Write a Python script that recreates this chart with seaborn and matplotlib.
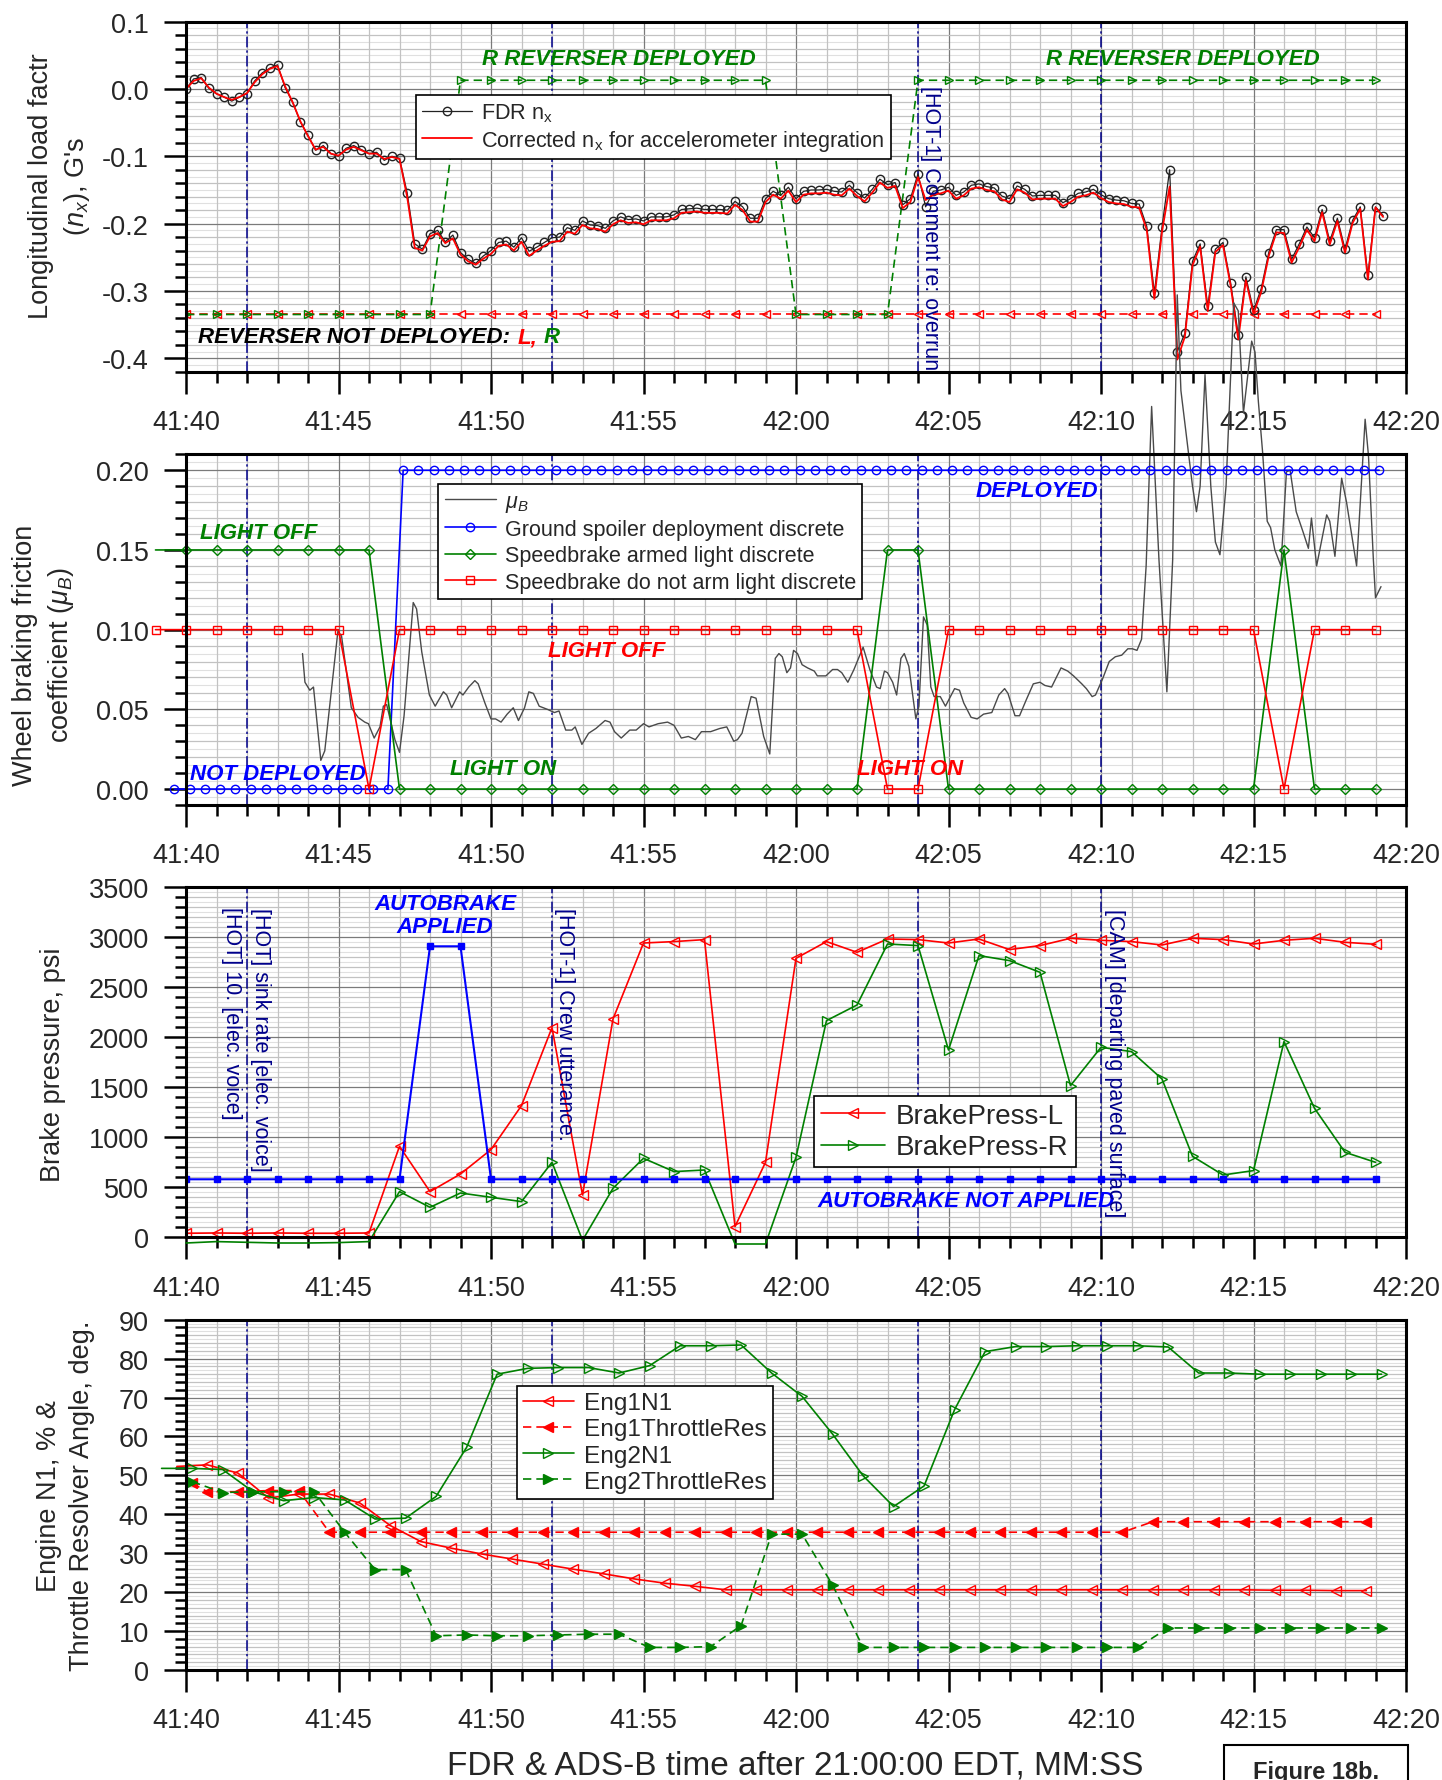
import numpy as np
import seaborn as sns
import matplotlib
matplotlib.use("Agg")
import matplotlib.pyplot as plt
from matplotlib.ticker import MultipleLocator, FuncFormatter
from matplotlib.patches import Rectangle

# ---------------- DATA ----------------
# Panel 1: longitudinal load factor, 4 Hz samples from 41:40 (t in s after 41:40)
T_NX = np.arange(158) * 0.25
FDR_NX = [0.000, 0.015, 0.017, 0.001, -0.007, -0.012, -0.018, -0.012, -0.007, 0.012,
          0.024, 0.031, 0.036, 0.002, -0.020, -0.049, -0.069, -0.091, -0.084, -0.096,
          -0.100, -0.088, -0.084, -0.090, -0.096, -0.094, -0.106, -0.100, -0.103, -0.154,
          -0.230, -0.238, -0.215, -0.210, -0.227, -0.217, -0.243, -0.253, -0.259, -0.248,
          -0.240, -0.228, -0.226, -0.235, -0.221, -0.241, -0.235, -0.228, -0.221, -0.220,
          -0.206, -0.210, -0.196, -0.202, -0.203, -0.207, -0.196, -0.190, -0.194, -0.193,
          -0.196, -0.190, -0.190, -0.190, -0.187, -0.179, -0.178, -0.177, -0.179, -0.179,
          -0.179, -0.180, -0.167, -0.175, -0.192, -0.192, -0.163, -0.152, -0.158, -0.146,
          -0.163, -0.152, -0.150, -0.150, -0.149, -0.152, -0.153, -0.143, -0.154, -0.162,
          -0.149, -0.134, -0.142, -0.139, -0.172, -0.163, -0.126, -0.175, -0.152, -0.150,
          -0.146, -0.158, -0.153, -0.143, -0.141, -0.145, -0.147, -0.159, -0.163, -0.144,
          -0.149, -0.159, -0.158, -0.158, -0.158, -0.169, -0.163, -0.155, -0.153, -0.149,
          -0.157, -0.163, -0.165, -0.166, -0.170, -0.171, -0.204, -0.303, -0.205, -0.120,
          -0.390, -0.363, -0.256, -0.230, -0.323, -0.238, -0.228, -0.288, -0.365, -0.279,
          -0.329, -0.297, -0.243, -0.209, -0.209, -0.253, -0.230, -0.205, -0.221, -0.179,
          -0.226, -0.192, -0.238, -0.195, -0.175, -0.277, -0.175, -0.188]
CORR_NX = [0.000, 0.012, 0.016, 0.002, -0.007, -0.012, -0.016, -0.012, -0.006, 0.010,
           0.022, 0.030, 0.034, 0.004, -0.020, -0.048, -0.070, -0.090, -0.086, -0.096,
           -0.099, -0.090, -0.086, -0.091, -0.096, -0.096, -0.104, -0.101, -0.104, -0.160,
           -0.236, -0.240, -0.219, -0.214, -0.229, -0.222, -0.246, -0.256, -0.261, -0.252,
           -0.245, -0.233, -0.231, -0.240, -0.227, -0.248, -0.240, -0.233, -0.227, -0.226,
           -0.212, -0.215, -0.202, -0.207, -0.208, -0.212, -0.201, -0.195, -0.199, -0.198,
           -0.201, -0.195, -0.195, -0.195, -0.192, -0.184, -0.183, -0.182, -0.184, -0.184,
           -0.184, -0.185, -0.172, -0.180, -0.197, -0.197, -0.168, -0.157, -0.163, -0.151,
           -0.168, -0.157, -0.155, -0.155, -0.154, -0.157, -0.158, -0.148, -0.159, -0.167,
           -0.154, -0.139, -0.147, -0.144, -0.177, -0.168, -0.131, -0.165, -0.157, -0.155,
           -0.151, -0.163, -0.158, -0.148, -0.146, -0.150, -0.152, -0.164, -0.168, -0.149,
           -0.154, -0.164, -0.163, -0.163, -0.163, -0.174, -0.168, -0.160, -0.158, -0.154,
           -0.162, -0.168, -0.170, -0.171, -0.175, -0.176, -0.209, -0.312, -0.212, -0.145,
           -0.402, -0.368, -0.262, -0.234, -0.330, -0.242, -0.232, -0.292, -0.372, -0.284,
           -0.334, -0.302, -0.248, -0.213, -0.214, -0.258, -0.235, -0.209, -0.226, -0.183,
           -0.231, -0.196, -0.243, -0.199, -0.178, -0.283, -0.176, -0.190]
T_REV = np.arange(40)
REV_L = [-0.335] * 40
REV_R = [-0.335] * 9 + [0.013] * 11 + [-0.335] * 4 + [0.013] * 16

# Panel 2: wheel braking friction and discretes
T_MU = [3.82, 3.9, 4.06, 4.18, 4.42, 4.55, 4.98, 5.1, 5.42, 5.64, 5.86, 5.98, 6.17, 6.36, 6.47,
        6.58, 6.85, 7.0, 7.15, 7.45, 7.56, 7.73, 7.98, 8.17, 8.29, 8.44, 8.55, 8.71, 8.97, 9.08,
        9.27, 9.47, 9.58, 9.8, 10.0, 10.15, 10.33, 10.53, 10.73, 10.9, 11.1, 11.24, 11.39, 11.58,
        11.85, 12.08, 12.23, 12.45, 12.65, 12.76, 12.98, 13.2, 13.44, 13.74, 13.9, 14.05, 14.27,
        14.55, 14.76, 15.0, 15.18, 15.48, 15.79, 16.0, 16.24, 16.47, 16.7, 16.9, 17.2, 17.5,
        17.73, 17.96, 18.08, 18.23, 18.53, 18.69, 18.94, 19.14, 19.32, 19.44, 19.55, 19.7, 19.82,
        19.92, 20.05, 20.2, 20.38, 20.6, 20.7, 20.98, 21.2, 21.36, 21.5, 21.7, 21.9, 22.2, 22.42,
        22.64, 22.76, 22.9, 23.0, 23.17, 23.3, 23.44, 23.55, 23.7, 23.93, 24.03, 24.18, 24.3,
        24.42, 24.53, 24.73, 24.9, 25.2, 25.36, 25.5, 25.74, 25.94, 26.15, 26.42, 26.65, 26.84,
        26.95, 27.18, 27.33, 27.55, 27.78, 28.0, 28.16, 28.38, 28.69, 28.91, 29.1, 29.37, 29.52,
        29.71, 29.82, 30.05, 30.27, 30.47, 30.68, 30.88, 31.03, 31.18, 31.33, 31.48, 31.66, 31.9,
        32.16, 32.35, 32.5, 32.62, 33.0, 33.13, 33.25, 33.41, 33.6, 33.75, 33.9, 34.1, 34.35,
        34.5, 34.67, 34.94, 35.05, 35.16, 35.3, 35.45, 35.56, 35.7, 35.9, 36.08, 36.2, 36.4,
        36.63, 36.8, 36.9, 37.07, 37.4, 37.5, 37.67, 37.89, 38.05, 38.38, 38.66, 38.77, 38.93,
        39.0, 39.18]
MU_B = [0.085, 0.067, 0.062, 0.064, 0.018, 0.024, 0.099, 0.096, 0.051, 0.045, 0.042, 0.041, 0.032,
        0.039, 0.052, 0.053, 0.031, 0.023, 0.046, 0.117, 0.113, 0.086, 0.059, 0.052, 0.056, 0.061,
        0.059, 0.051, 0.061, 0.059, 0.064, 0.068, 0.066, 0.054, 0.044, 0.044, 0.042, 0.047, 0.051,
        0.043, 0.051, 0.061, 0.060, 0.052, 0.050, 0.048, 0.049, 0.037, 0.037, 0.039, 0.028, 0.035,
        0.038, 0.043, 0.042, 0.036, 0.032, 0.037, 0.037, 0.041, 0.039, 0.041, 0.042, 0.040, 0.032,
        0.033, 0.031, 0.036, 0.036, 0.038, 0.039, 0.030, 0.031, 0.035, 0.058, 0.057, 0.033, 0.022,
        0.082, 0.085, 0.083, 0.073, 0.076, 0.087, 0.085, 0.078, 0.076, 0.074, 0.071, 0.071, 0.075,
        0.075, 0.073, 0.067, 0.075, 0.089, 0.075, 0.064, 0.063, 0.074, 0.073, 0.067, 0.059, 0.082,
        0.085, 0.077, 0.044, 0.052, 0.108, 0.103, 0.064, 0.058, 0.058, 0.052, 0.063, 0.062, 0.054,
        0.045, 0.044, 0.047, 0.048, 0.059, 0.063, 0.060, 0.046, 0.046, 0.056, 0.066, 0.067, 0.065,
        0.064, 0.076, 0.074, 0.071, 0.066, 0.063, 0.058, 0.059, 0.069, 0.080, 0.083, 0.084, 0.088,
        0.088, 0.087, 0.094, 0.140, 0.240, 0.144, 0.061, 0.144, 0.310, 0.250, 0.190, 0.174, 0.190,
        0.260, 0.190, 0.155, 0.147, 0.190, 0.305, 0.300, 0.236, 0.281, 0.274, 0.243, 0.211, 0.168,
        0.164, 0.150, 0.140, 0.199, 0.200, 0.174, 0.161, 0.151, 0.170, 0.140, 0.172, 0.168, 0.146,
        0.195, 0.180, 0.140, 0.232, 0.209, 0.144, 0.120, 0.127]
T_SPOILER = np.arange(80) * 0.5 - 0.38
SPOILER = [0.0] * 15 + [0.2] * 65
T_SB = np.arange(41) - 1
SB_ARMED = [0.15] * 8 + [0.0] * 16 + [0.15] * 2 + [0.0] * 11 + [0.15] + [0.0] * 3
SB_NOARM = [0.1] * 7 + [0.0] + [0.1] * 16 + [0.0] * 2 + [0.1] * 11 + [0.0] + [0.1] * 3

# Panel 3: brake pressure, 1 Hz
T_BP = np.arange(40)
BP_L = [40, 43, 40, 43, 40, 40, 43, 910, 457, 633, 877, 1317, 2097, 423, 2183, 2943, 2957, 2977,
        107, 750, 2790, 2957, 2850, 2983, 2977, 2943, 2983, 2877, 2917, 2990, 2970, 2957, 2923,
        2990, 2977, 2933, 2970, 2990, 2950, 2930]
BP_R = [-57, -43, -50, -57, -57, -53, -43, 457, 300, 443, 400, 357, 750, -30, 490, 790, 657, 673,
        -67, -67, 800, 2167, 2323, 2933, 2917, 1873, 2817, 2767, 2650, 1517, 1900, 1857, 1583,
        810, 623, 667, 1957, 1290, 850, 750]
AUTOBRAKE = [580] * 8 + [2910, 2910] + [580] * 30

# Panel 4: engine N1 and throttle resolver angle
T_E1N1 = [-0.3, 0.7, 1.7, 2.7, 3.7, 4.7, 5.7, 6.7, 7.7, 8.7, 9.7, 10.7, 11.7, 12.7, 13.7, 14.7, 15.7,
          16.7, 17.7, 18.7, 19.7, 20.7, 21.7, 22.7, 23.7, 24.7, 25.7, 26.7, 27.7, 28.7, 29.7, 30.7,
          31.7, 32.7, 33.7, 34.7, 35.7, 36.7, 37.7, 38.7]
ENG1_N1 = [52.3, 52.7, 50.6, 44.2, 45.2, 45.2, 42.9, 37.1, 33.0, 31.3, 29.8, 28.5, 27.2, 25.9, 24.7,
           23.4, 22.3, 21.5, 20.6, 20.6, 20.6, 20.6, 20.6, 20.6, 20.6, 20.6, 20.6, 20.6, 20.6, 20.6,
           20.6, 20.6, 20.6, 20.6, 20.6, 20.6, 20.5, 20.5, 20.4, 20.4]
T_E1TR = [0.2, 0.7, 1.7, 2.7, 3.7, 4.7, 5.7, 6.7, 7.7, 8.7, 9.7, 10.7, 11.7, 12.7, 13.7, 14.7, 15.7,
          16.7, 17.7, 18.7, 19.7, 20.7, 21.7, 22.7, 23.7, 24.7, 25.7, 26.7, 27.7, 28.7, 29.7, 30.7,
          31.7, 32.7, 33.7, 34.7, 35.7, 36.7, 37.7, 38.7]
ENG1_TR = [48.0, 45.8, 45.8, 46.1, 46.1] + [35.4] * 27 + [38.1] * 8
T_E2N1 = [-0.8, 0.2, 1.2, 2.2, 3.2, 4.2, 5.2, 6.2, 7.2, 8.2, 9.2, 10.2, 11.2, 12.2, 13.2, 14.2, 15.2,
          16.2, 17.2, 18.2, 19.2, 20.2, 21.2, 22.2, 23.2, 24.2, 25.2, 26.2, 27.2, 28.2, 29.2, 30.2,
          31.2, 32.2, 33.2, 34.2, 35.2, 36.2, 37.2, 38.2, 39.2]
ENG2_N1 = [51.8, 51.8, 51.5, 45.8, 43.5, 44.3, 43.7, 38.8, 39.0, 44.6, 57.2, 76.0, 77.5, 77.7, 77.7,
           76.3, 78.2, 83.3, 83.3, 83.5, 76.3, 70.3, 60.6, 49.9, 42.0, 47.3, 66.9, 81.8, 83.1, 83.1,
           83.3, 83.3, 83.3, 83.0, 76.3, 76.3, 76.0, 76.0, 76.0, 76.0, 76.0]
T_E2TR = [0.2, 1.2, 2.2, 3.2, 4.2, 5.2, 6.2, 7.2, 8.2, 9.2, 10.2, 11.2, 12.2, 13.2, 14.2, 15.2, 16.2,
          17.2, 18.2, 19.2, 20.2, 21.2, 22.2, 23.2, 24.2, 25.2, 26.2, 27.2, 28.2, 29.2, 30.2, 31.2,
          32.2, 33.2, 34.2, 35.2, 36.2, 37.2, 38.2, 39.2]
ENG2_TR = [48.4, 45.6, 45.8, 45.8, 45.8, 35.4, 25.8, 25.8, 8.8, 9.0, 8.8, 8.8, 9.0, 9.2, 9.2, 5.8,
           5.8, 6.0, 11.4, 34.9, 34.9, 21.8] + [5.8] * 10 + [10.8] * 8

EVENT_TIMES = [2, 12, 24, 30]

# ---------------- STYLE ----------------
sns.set_theme(style="white")
plt.rcParams['font.family'] = ['Liberation Sans', 'DejaVu Sans']
plt.rcParams['mathtext.fontset'] = 'custom'
plt.rcParams['mathtext.rm'] = 'Liberation Sans'
plt.rcParams['mathtext.it'] = 'Liberation Sans:italic'
plt.rcParams['mathtext.bf'] = 'Liberation Sans:bold'
plt.rcParams['axes.unicode_minus'] = False

RED = '#ff0000'
GREEN = '#008000'
BLUE = '#0000ff'
NAVY = '#00008b'

W, H = 1442, 1781
fig = plt.figure(figsize=(W / 100, H / 100), dpi=100)


def rect(top, bottom):
    return [186 / W, 1 - bottom / H, 1220 / W, (bottom - top) / H]


def time_fmt(v, pos):
    total = int(round(40 + v))
    return f"{41 + total // 60}:{total % 60:02d}"


def style_axes(ax, ylim, major, minor, fmt):
    ax.set_xlim(0, 40)
    ax.set_ylim(*ylim)
    ax.xaxis.set_major_locator(MultipleLocator(5))
    ax.xaxis.set_minor_locator(MultipleLocator(1))
    ax.xaxis.set_major_formatter(FuncFormatter(time_fmt))
    ax.yaxis.set_major_locator(MultipleLocator(major))
    ax.yaxis.set_minor_locator(MultipleLocator(minor))
    ax.yaxis.set_major_formatter(FuncFormatter(fmt))
    ax.set_axisbelow(True)
    ax.grid(which='major', color='#7a7a7a', lw=0.9)
    ax.grid(which='minor', color='#c2c2c2', lw=0.9)
    for y in np.arange(ylim[0] - minor, ylim[1] + minor, minor) + minor / 2:
        if ylim[0] < y < ylim[1]:
            ax.axhline(y, color='#e0e0e0', lw=0.8, zorder=0.5)
    for s in ax.spines.values():
        s.set_linewidth(2.2)
        s.set_color('black')
        s.set_visible(True)
    ax.tick_params(which='major', direction='out', length=15.8, width=1.8, color='black',
                   labelsize=19.5, pad=11, left=True, bottom=True, top=False, right=False)
    ax.tick_params(which='minor', direction='out', length=8, width=1.8, color='black',
                   left=True, bottom=True, top=False, right=False)
    ax.set_xlabel('')
    ax.set_ylabel('')
    for t in EVENT_TIMES:
        ax.axvline(t, color=NAVY, lw=1.1, ls=(0, (7, 2, 1.5, 2)), zorder=1.5)


def line(ax, x, y, **kw):
    sns.lineplot(x=np.asarray(x, dtype=float), y=np.asarray(y, dtype=float), ax=ax,
                 estimator=None, sort=False, legend=False, **kw)
    return ax.lines[-1]


ann = dict(fontsize=16, fontweight='bold', fontstyle='italic')
vtxt = dict(fontsize=15.5, color=NAVY, rotation=-90, ha='center', va='top')

# ---------------- PANEL 1 ----------------
ax1 = fig.add_axes(rect(22.7, 372.7))
line(ax1, T_REV, REV_L, color=RED, linewidth=1.2, linestyle=(0, (5, 3)), marker='<',
     markersize=6, markerfacecolor='none', markeredgecolor=RED, markeredgewidth=1.0)
line(ax1, T_REV, REV_R, color=GREEN, linewidth=1.2, linestyle=(0, (5, 3)), marker='>',
     markersize=6, markerfacecolor='none', markeredgecolor=GREEN, markeredgewidth=1.0)
h_fdr = line(ax1, T_NX, FDR_NX, color='#222222', linewidth=0.9, marker='o', markersize=6,
             markerfacecolor='none', markeredgecolor='#222222', markeredgewidth=1.0)
h_cor = line(ax1, T_NX, CORR_NX, color=RED, linewidth=1.3)
style_axes(ax1, (-0.42, 0.1), 0.1, 0.02, lambda v, p: f"{round(v, 1) + 0.0:.1f}")
leg = ax1.legend([h_fdr, h_cor], ["FDR n$_{\\rm x}$", "Corrected n$_{\\rm x}$ for accelerometer integration"],
                 loc='upper left', bbox_to_anchor=(0.1885, 0.79), fontsize=15.6, frameon=True,
                 fancybox=False, edgecolor='black', framealpha=1, borderpad=0.3, handlelength=2.3,
                 labelspacing=0.15, handletextpad=0.4, borderaxespad=0)
leg.get_frame().set_linewidth(1.2)
ax1.text(9.7, 0.046, "R REVERSER DEPLOYED", color=GREEN, ha='left', va='center', **ann)
ax1.text(28.2, 0.046, "R REVERSER DEPLOYED", color=GREEN, ha='left', va='center', **ann)
t_a = ax1.text(0.4, -0.368, "REVERSER NOT DEPLOYED:", color='black', ha='left', va='center', **ann)
t_b = ax1.annotate("L,", xy=(1, 0), xycoords=t_a, xytext=(5, 0), textcoords='offset points',
                   color=RED, ha='left', va='bottom', **ann)
ax1.annotate("R", xy=(1, 0), xycoords=t_b, xytext=(5, 0), textcoords='offset points',
             color=GREEN, ha='left', va='bottom', **ann)
ax1.text(24.41, 0.006, "[HOT-1] Comment re: overrun", **vtxt)

# ---------------- PANEL 2 ----------------
ax2 = fig.add_axes(rect(455.3, 806))
h_mu = line(ax2, T_MU, MU_B, color='#4a4a4a', linewidth=1.0, clip_on=False)
h_gs = line(ax2, T_SPOILER, SPOILER, color=BLUE, linewidth=1.2, marker='o', markersize=6,
            markerfacecolor='none', markeredgecolor=BLUE, markeredgewidth=1.0, clip_on=False)
h_sa = line(ax2, T_SB, SB_ARMED, color=GREEN, linewidth=1.2, marker='D', markersize=5.5,
            markerfacecolor='none', markeredgecolor=GREEN, markeredgewidth=1.0, clip_on=False,
            markevery=list(range(1, len(SB_ARMED))))
h_sn = line(ax2, T_SB, SB_NOARM, color=RED, linewidth=1.2, marker='s', markersize=5.5,
            markerfacecolor='none', markeredgecolor=RED, markeredgewidth=1.0, clip_on=False)
style_axes(ax2, (-0.01, 0.21), 0.05, 0.01, lambda v, p: f"{round(v, 2) + 0.0:.2f}")
leg = ax2.legend([h_mu, h_gs, h_sa, h_sn],
                 ["$\\mu_B$", "Ground spoiler deployment discrete", "Speedbrake armed light discrete",
                  "Speedbrake do not arm light discrete"],
                 loc='upper left', bbox_to_anchor=(0.2066, 0.915), fontsize=15.5, frameon=True,
                 fancybox=False, edgecolor='black', framealpha=1, borderpad=0.3, handlelength=2.4,
                 labelspacing=0.25, handletextpad=0.4, borderaxespad=0)
leg.get_frame().set_linewidth(1.2)
ax2.text(0.46, 0.161, "LIGHT OFF", color=GREEN, ha='left', va='center', **ann)
ax2.text(29.9, 0.187, "DEPLOYED", color=BLUE, ha='right', va='center', **ann)
ax2.text(11.87, 0.087, "LIGHT OFF", color=RED, ha='left', va='center', **ann)
ax2.text(0.13, 0.010, "NOT DEPLOYED", color=BLUE, ha='left', va='center', **ann)
ax2.text(8.66, 0.0126, "LIGHT ON", color=GREEN, ha='left', va='center', **ann)
ax2.text(22.0, 0.0126, "LIGHT ON", color=RED, ha='left', va='center', **ann)

# ---------------- PANEL 3 ----------------
ax3 = fig.add_axes(rect(888.3, 1238.3))
h_l = line(ax3, T_BP, BP_L, color=RED, linewidth=1.2, marker='<', markersize=7,
           markerfacecolor='none', markeredgecolor=RED, markeredgewidth=1.0)
h_r = line(ax3, T_BP, BP_R, color=GREEN, linewidth=1.2, marker='>', markersize=7,
           markerfacecolor='none', markeredgecolor=GREEN, markeredgewidth=1.0, clip_on=False,
           markevery=[i for i, v in enumerate(BP_R) if v >= 0])
line(ax3, T_BP, AUTOBRAKE, color=BLUE, linewidth=1.5, marker='s', markersize=4.5,
     markerfacecolor=BLUE, markeredgecolor=BLUE, markeredgewidth=1.0)
style_axes(ax3, (0, 3500), 500, 100, lambda v, p: f"{int(round(v))}")
leg = ax3.legend([h_l, h_r], ["BrakePress-L", "BrakePress-R"], loc='upper left',
                 bbox_to_anchor=(0.515, 0.404), fontsize=20, frameon=True, fancybox=False,
                 edgecolor='black', framealpha=1, borderpad=0.25, handlelength=2.3,
                 labelspacing=0.2, handletextpad=0.4, borderaxespad=0)
leg.get_frame().set_linewidth(1.2)
ax3.text(8.5, 3220, "AUTOBRAKE\nAPPLIED", color=BLUE, ha='center', va='center',
         linespacing=1.15, **ann)
ax3.text(20.7, 363, "AUTOBRAKE NOT APPLIED", color=BLUE, ha='left', va='center', **ann)
ax3.text(1.48, 3316, "[HOT] 10. [elec. voice]", **vtxt)
ax3.text(2.44, 3303, "[HOT] sink rate [elec. voice]", **vtxt)
ax3.text(12.41, 3303, "[HOT-1] Crew utterance.", **vtxt)
ax3.text(30.43, 3293, "[CAM] [departing paved surface]", **vtxt)

# ---------------- PANEL 4 ----------------
ax4 = fig.add_axes(rect(1320.7, 1671))
h_e1 = line(ax4, T_E1N1, ENG1_N1, color=RED, linewidth=1.2, marker='<', markersize=7,
            markerfacecolor='none', markeredgecolor=RED, markeredgewidth=1.0, clip_on=False,
            markevery=list(range(1, len(ENG1_N1))))
h_e1t = line(ax4, T_E1TR, ENG1_TR, color=RED, linewidth=1.2, linestyle=(0, (5, 3)), marker='<',
             markersize=7, markerfacecolor=RED, markeredgecolor=RED, markeredgewidth=1.0)
h_e2 = line(ax4, T_E2N1, ENG2_N1, color=GREEN, linewidth=1.2, marker='>', markersize=7,
            markerfacecolor='none', markeredgecolor=GREEN, markeredgewidth=1.0, clip_on=False,
            markevery=list(range(1, len(ENG2_N1))))
h_e2t = line(ax4, T_E2TR, ENG2_TR, color=GREEN, linewidth=1.2, linestyle=(0, (5, 3)), marker='>',
             markersize=7, markerfacecolor=GREEN, markeredgecolor=GREEN, markeredgewidth=1.0)
style_axes(ax4, (0, 90), 10, 2, lambda v, p: f"{int(round(v))}")
leg = ax4.legend([h_e1, h_e1t, h_e2, h_e2t], ["Eng1N1", "Eng1ThrottleRes", "Eng2N1", "Eng2ThrottleRes"],
                 loc='upper left', bbox_to_anchor=(0.271, 0.811), fontsize=17.6, frameon=True,
                 fancybox=False, edgecolor='black', framealpha=1, borderpad=0.25, handlelength=2.1,
                 labelspacing=0.17, handletextpad=0.4, borderaxespad=0)
leg.get_frame().set_linewidth(1.2)

# ---------------- FIGURE TEXT ----------------
ylab = dict(rotation=90, ha='center', va='center', fontsize=19.5, linespacing=1.35)
fig.text(60 / W, 1 - 186 / H, "Longitudinal load factr\n($n_x$), G's", **ylab)
fig.text(44 / W, 1 - 655 / H, "Wheel braking friction\ncoefficient ($\\mu_B$)", **ylab)
fig.text(53 / W, 1 - 1065 / H, "Brake pressure, psi", **ylab)
fig.text(66 / W, 1 - 1496 / H, "Engine N1, % &\nThrottle Resolver Angle, deg.", **ylab)
fig.text(795 / W, 1 - 1766 / H, "FDR & ADS-B time after 21:00:00 EDT, MM:SS", ha='center',
         va='center', fontsize=24)
fig.add_artist(Rectangle((1224 / W, -0.01), 184 / W, 0.01 + (1781 - 1746) / H,
                         transform=fig.transFigure, fill=False, edgecolor='black', lw=1.5))
fig.text(1316 / W, 1 - 1779 / H, "Figure 18b.", ha='center', va='baseline', fontsize=17,
         fontweight='bold')

fig.savefig("out.png", dpi=100)
